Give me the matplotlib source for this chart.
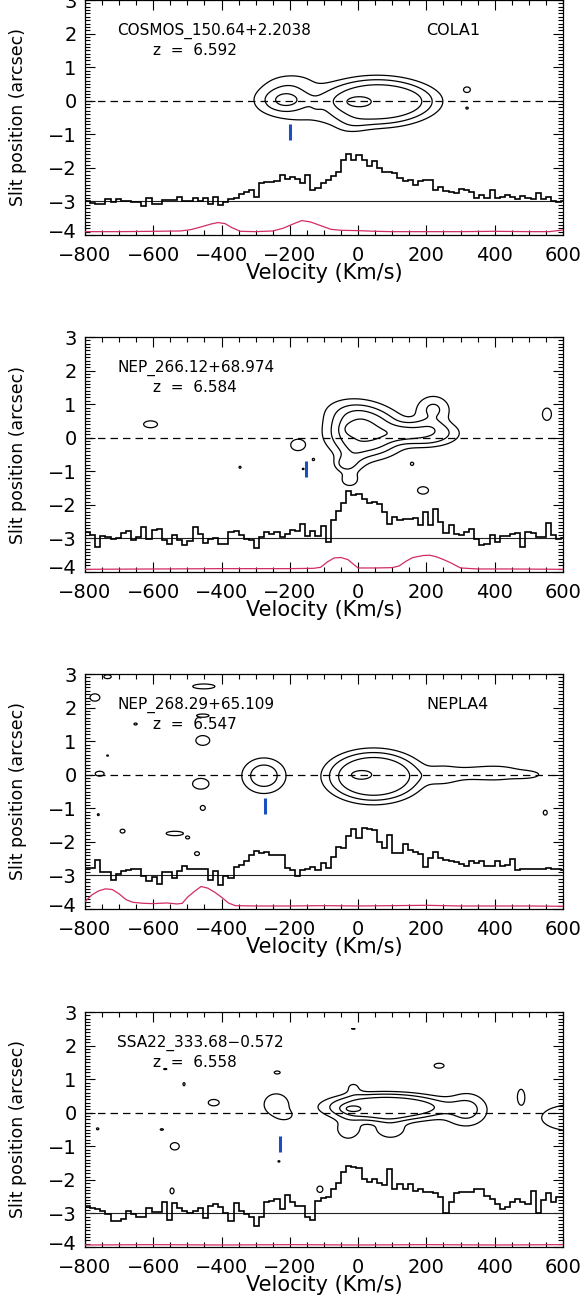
import numpy as np
import matplotlib
matplotlib.use("Agg")
import matplotlib.pyplot as plt
from matplotlib.ticker import MultipleLocator
import matplotlib.transforms as mtransforms

# ---------------- data ----------------
BIN_START = -800
BIN_WIDTH = 15

NAMES = ["COSMOS_150.64+2.2038", "NEP_266.12+68.974", "NEP_268.29+65.109", "SSA22_333.68\u22120.572"]
REDSHIFTS = ["6.592", "6.584", "6.547", "6.558"]
ALIASES = ["COLA1", "", "NEPLA4", ""]
MARK_V = [-199, -153, -273, -229]

P1_SPEC = [-2.99, -3.04, -3.07, -3.09, -2.94, -3.01, -2.92, -2.99, -2.99, -3.02,
           -3.02, -3.14, -2.89, -3.07, -3.07, -2.97, -2.97, -2.96, -2.86, -2.99,
           -2.99, -2.90, -2.99, -2.89, -3.09, -2.86, -3.12, -3.02, -2.94, -2.89,
           -2.79, -2.71, -2.67, -2.86, -2.45, -2.42, -2.42, -2.39, -2.20, -2.32,
           -2.27, -2.33, -2.45, -2.20, -2.67, -2.59, -2.46, -2.35, -2.25, -2.12,
           -1.77, -1.60, -1.77, -1.63, -1.78, -1.93, -1.80, -2.00, -2.11, -2.13,
           -2.15, -2.30, -2.40, -2.37, -2.52, -2.40, -2.37, -2.37, -2.66, -2.56,
           -2.69, -2.71, -2.74, -2.62, -2.67, -2.71, -2.89, -2.82, -2.89, -2.66,
           -2.89, -2.86, -2.82, -2.88, -2.92, -2.85, -2.90, -2.93, -2.75, -2.93,
           -2.86, -2.98, -3.02, -2.98]
P2_SPEC = [-2.81, -2.89, -3.26, -2.93, -2.96, -3.01, -2.99, -2.84, -2.78, -3.06,
           -2.96, -2.66, -3.01, -2.76, -2.73, -3.04, -3.16, -2.89, -3.06, -3.19,
           -3.08, -2.66, -2.86, -3.14, -3.01, -2.99, -3.16, -3.16, -2.81, -2.78,
           -2.91, -3.03, -3.06, -3.29, -2.96, -2.81, -2.86, -2.81, -2.96, -2.86,
           -2.76, -2.79, -2.58, -2.93, -2.79, -2.93, -2.64, -3.11, -2.46, -2.19,
           -1.94, -1.60, -1.72, -1.67, -1.82, -1.95, -1.90, -1.97, -2.22, -2.56,
           -2.37, -2.46, -2.41, -2.41, -2.40, -2.59, -2.22, -2.59, -2.12, -2.51,
           -2.83, -2.61, -2.88, -2.91, -2.81, -2.71, -3.03, -3.21, -3.16, -2.89,
           -3.11, -2.94, -2.94, -2.88, -2.85, -3.25, -2.80, -2.85, -2.95, -2.95,
           -2.53, -2.90, -3.02, -3.00]
P3_SPEC = [-2.78, -2.78, -2.53, -2.91, -2.91, -3.14, -2.96, -2.88, -2.83, -2.80,
           -2.80, -3.03, -3.17, -3.06, -3.27, -2.90, -2.90, -3.08, -2.88, -2.71,
           -2.81, -2.81, -2.81, -2.81, -3.15, -2.86, -3.29, -3.03, -3.09, -2.76,
           -2.68, -2.58, -2.40, -2.27, -2.34, -2.31, -2.38, -2.40, -2.40, -2.78,
           -2.85, -3.03, -2.83, -2.80, -2.76, -2.83, -2.63, -2.78, -2.45, -2.14,
           -2.17, -1.82, -1.63, -1.89, -1.58, -1.63, -1.66, -1.99, -2.17, -1.79,
           -2.34, -2.34, -2.07, -2.24, -2.31, -2.37, -2.75, -2.48, -2.31, -2.48,
           -2.53, -2.56, -2.61, -2.66, -2.73, -2.56, -2.63, -2.56, -2.73, -2.73,
           -2.56, -2.71, -2.70, -2.50, -2.85, -2.80, -2.80, -2.82, -2.80, -2.80,
           -2.78, -2.82, -2.80, -2.83]
P4_SPEC = [-2.79, -2.85, -2.87, -2.92, -3.02, -3.22, -3.22, -3.17, -2.92, -3.02,
           -3.12, -3.12, -2.85, -2.97, -2.95, -2.65, -3.19, -2.69, -2.85, -2.92,
           -3.00, -2.92, -2.85, -3.14, -2.77, -2.72, -2.82, -2.99, -3.22, -2.69,
           -2.92, -3.02, -3.12, -3.37, -3.12, -2.67, -2.62, -2.57, -2.87, -2.45,
           -2.67, -2.77, -2.77, -3.12, -3.20, -2.62, -2.55, -2.52, -2.28, -2.08,
           -1.76, -1.58, -1.62, -1.65, -1.98, -2.06, -1.98, -2.10, -2.16, -1.68,
           -2.28, -2.13, -2.28, -2.13, -2.33, -2.28, -2.36, -2.36, -2.40, -2.52,
           -2.99, -2.67, -2.40, -2.36, -2.35, -2.35, -2.26, -2.26, -2.48, -2.57,
           -2.72, -2.87, -2.82, -2.67, -2.57, -2.67, -2.72, -2.33, -3.00, -2.60,
           -2.40, -2.67, -2.52, -2.52]

P1_SKY_V = [-800, -700, -600, -520, -490, -460, -430, -410, -390, -370, -345, -300, -250, -220,
            -190, -165, -140, -110, -80, -50, 0, 50, 100, 200, 300, 400, 500, 560, 600]
P1_SKY_Y = [-3.90, -3.90, -3.89, -3.88, -3.84, -3.76, -3.67, -3.63, -3.66, -3.78, -3.89, -3.90,
            -3.88, -3.80, -3.67, -3.57, -3.61, -3.72, -3.83, -3.86, -3.87, -3.89, -3.90, -3.90,
            -3.90, -3.89, -3.90, -3.90, -3.85]
P2_SKY_V = [-800, -600, -400, -200, -130, -110, -90, -70, -50, -30, -10, 0, 50, 100, 120, 140,
            160, 190, 210, 230, 250, 270, 300, 350, 450, 600]
P2_SKY_Y = [-3.92, -3.91, -3.90, -3.90, -3.89, -3.86, -3.70, -3.58, -3.57, -3.63, -3.80, -3.88,
            -3.88, -3.87, -3.82, -3.68, -3.57, -3.51, -3.50, -3.55, -3.63, -3.72, -3.88, -3.91,
            -3.91, -3.92]
P3_SKY_V = [-800, -780, -760, -740, -720, -700, -680, -660, -630, -600, -560, -530, -515, -500,
            -480, -460, -440, -420, -400, -380, -360, -300, -200, -100, 0, 100, 200, 300, 400,
            500, 600]
P3_SKY_Y = [-3.78, -3.58, -3.46, -3.40, -3.42, -3.55, -3.72, -3.80, -3.83, -3.84, -3.82, -3.85,
            -3.83, -3.65, -3.48, -3.33, -3.38, -3.50, -3.65, -3.82, -3.90, -3.91, -3.91, -3.90,
            -3.91, -3.90, -3.89, -3.91, -3.91, -3.91, -3.92]
P4_SKY_V = [-800, -600, -400, -200, 0, 200, 400, 600]
P4_SKY_Y = [-3.94, -3.93, -3.94, -3.93, -3.94, -3.93, -3.94, -3.93]

# 2D emission components: (velocity, slit pos, sigma_v, sigma_y, amplitude, shape)
P1_COMP = [(55, -0.03, 140, 0.62, 3.7, 2.0), (-5, -0.03, 30, 0.12, 0.7, 1.0),
           (-213, 0.02, 55, 0.3, 2.8, 1.0), (-200, 0.0, 90, 0.5, 0.6, 1.0),
           (-190, 0.6, 60, 0.22, 0.8, 1.0), (-25, -0.8, 40, 0.18, 0.9, 1.0),
           (-130, -0.6, 60, 0.15, 0.5, 1.0), (200, 0.0, 70, 0.35, 0.5, 1.0),
           (-123, -0.2, 12, 0.1, 0.35, 1.0), (319, 0.33, 12, 0.1, 1.3, 1.0),
           (319, -0.22, 5, 0.04, 1.2, 1.0)]
P2_COMP = [(20, 0.15, 85, 0.6, 3.6, 1.5), (-19, 0.26, 18, 0.12, 0.8, 1.0),
           (195, 0.13, 75, 0.3, 2.5, 1.5), (220, 0.85, 35, 0.3, 2.15, 1.0),
           (-30, 0.85, 60, 0.3, 1.2, 1.0), (-20, -0.75, 30, 0.3, 1.3, 1.0),
           (100, 0.1, 150, 0.5, 0.6, 1.0), (-608, 0.4, 28, 0.14, 1.3, 1.0),
           (-346, -0.88, 6, 0.06, 1.15, 1.0), (-177, -0.22, 25, 0.2, 1.3, 1.0),
           (-131, -0.65, 5, 0.05, 1.15, 1.0), (-161, -0.93, 5, 0.04, 1.15, 1.0),
           (-41, -0.78, 20, 0.15, 1.4, 1.0), (-25, -1.28, 20, 0.15, 1.4, 1.0),
           (158, -0.78, 6, 0.06, 1.2, 1.0), (190, -1.57, 22, 0.15, 1.3, 1.0),
           (553, 0.7, 18, 0.25, 1.3, 1.0)]
P3_COMP = [(45, -0.05, 120, 0.66, 3.9, 2.0), (3, 0.0, 20, 0.08, 0.5, 1.0),
           (400, 0.05, 110, 0.3, 1.25, 1.0), (500, 0.0, 30, 0.08, 0.6, 1.0),
           (275, 0.0, 45, 0.25, 0.4, 1.0), (237, -0.02, 30, 0.2, 1.1, 1.0),
           (-276, -0.03, 44, 0.36, 2.95, 1.0),
           (-455, 1.02, 28, 0.2, 1.3, 1.0), (-461, -0.27, 33, 0.22, 1.3, 1.0),
           (-455, -0.99, 10, 0.1, 1.3, 1.0), (-452, 2.63, 45, 0.1, 1.3, 1.0),
           (-455, 1.76, 30, 0.08, 1.2, 1.0), (-757, 0.03, 18, 0.1, 1.3, 1.0),
           (-771, 2.3, 20, 0.15, 1.3, 1.0), (-734, 2.92, 15, 0.08, 1.3, 1.0),
           (-652, 1.51, 8, 0.05, 1.2, 1.0), (-734, 0.57, 5, 0.03, 1.2, 1.0),
           (-761, -1.19, 5, 0.05, 1.2, 1.0), (-690, -1.68, 10, 0.08, 1.3, 1.0),
           (-537, -1.75, 35, 0.09, 1.3, 1.0), (-499, -1.88, 6, 0.04, 1.2, 1.0),
           (-472, -2.35, 10, 0.08, 1.3, 1.0), (548, -1.13, 8, 0.1, 1.3, 1.0)]
P4_COMP = [(75, 0.18, 150, 0.36, 3.5, 2.0), (-19, 0.12, 18, 0.07, 1.1, 1.0),
           (-30, -0.5, 30, 0.3, 1.2, 1.0), (95, -0.5, 35, 0.25, 1.2, 1.0),
           (60, -0.35, 150, 0.35, 0.4, 1.0),
           (-14, 0.75, 20, 0.15, 1.2, 1.0), (320, 0.1, 40, 0.35, 2.1, 1.0),
           (250, 0.1, 80, 0.3, 0.7, 1.0), (-240, 0.25, 45, 0.4, 1.35, 1.0),
           (-210, -0.1, 20, 0.12, 0.5, 1.0),
           (-423, 0.3, 22, 0.13, 1.3, 1.0), (477, 0.5, 12, 0.25, 1.3, 1.0),
           (630, -0.15, 95, 0.4, 1.6, 1.0), (-237, 1.2, 12, 0.06, 1.2, 1.0),
           (237, 1.4, 20, 0.1, 1.3, 1.0), (-14, 2.5, 12, 0.02, 1.1, 1.0),
           (-510, 0.85, 5, 0.08, 1.2, 1.0), (-565, 1.3, 8, 0.03, 1.2, 1.0),
           (-537, -1.0, 18, 0.15, 1.3, 1.0), (-575, -0.5, 8, 0.04, 1.2, 1.0),
           (-763, -0.48, 6, 0.05, 1.2, 1.0), (-545, -2.33, 8, 0.12, 1.3, 1.0),
           (-112, -2.28, 12, 0.13, 1.3, 1.0), (-232, -1.45, 5, 0.04, 1.2, 1.0)]

CONTOUR_LEVELS = [1, 2, 3, 4]

SPECS = [P1_SPEC, P2_SPEC, P3_SPEC, P4_SPEC]
SKIES = [(P1_SKY_V, P1_SKY_Y), (P2_SKY_V, P2_SKY_Y), (P3_SKY_V, P3_SKY_Y), (P4_SKY_V, P4_SKY_Y)]
COMPS = [P1_COMP, P2_COMP, P3_COMP, P4_COMP]

# ---------------- plotting ----------------
W, H = 583, 1302
plt.rcParams['font.family'] = ['DejaVu Sans']
fig = plt.figure(figsize=(W / 100, H / 100), dpi=100)

gv = np.linspace(-800, 600, 561)
gy = np.linspace(-4, 3, 351)
GV, GY = np.meshgrid(gv, gy)


def field(comps):
    z = np.zeros_like(GV)
    for cv, cy, sv, sy, a, p in comps:
        r2 = ((GV - cv) / sv) ** 2 + ((GY - cy) / sy) ** 2
        z += a * np.exp(-0.5 * r2 ** p)
    return z


AX_LEFT, AX_RIGHT = 85, 563
AX_H = 235
TOPS = [0, 337, 674, 1012]
RED = '#d22c64'
BLUE = '#1a4fc0'

for k in range(4):
    top = TOPS[k]
    ax = fig.add_axes([AX_LEFT / W, 1 - (top + AX_H) / H, (AX_RIGHT - AX_LEFT) / W, AX_H / H])
    ax.set_xlim(-800, 600)
    ax.set_ylim(-4, 3)

    spec = SPECS[k]
    edges = BIN_START + BIN_WIDTH * np.arange(len(spec) + 1)
    ax.axhline(-3, color='#222222', lw=0.8, zorder=2)
    ax.stairs(spec, edges, baseline=None, color='black', lw=1.2, zorder=3)
    sv, sy = SKIES[k]
    ax.plot(sv, sy, color=RED, lw=0.9, zorder=3)

    ax.axhline(0, color='black', lw=0.9, ls=(0, (6, 4)), zorder=2)
    ax.contour(GV, GY, field(COMPS[k]), levels=CONTOUR_LEVELS, colors='black',
               linewidths=0.9, zorder=4)
    ax.plot([MARK_V[k], MARK_V[k]], [-0.7, -1.18], color=BLUE, lw=2.2, zorder=5,
            solid_capstyle='butt')

    ax.text(-705, 2.09, NAMES[k], fontsize=11, va='center', ha='left')
    ax.text(-600, 1.5, 'z  =  ' + REDSHIFTS[k], fontsize=11, va='center', ha='left')
    if ALIASES[k]:
        ax.text(199, 2.09, ALIASES[k], fontsize=11.5, va='center', ha='left')

    ax.set_xticks(np.arange(-800, 601, 200))
    ax.set_yticks(np.arange(-4, 4, 1))
    ax.xaxis.set_minor_locator(MultipleLocator(50))
    ax.yaxis.set_minor_locator(MultipleLocator(0.1))
    ax.tick_params(which='both', direction='in', top=True, right=True, width=0.8,
                   labelsize=14)
    ax.tick_params(which='major', length=7)
    ax.tick_params(axis='x', which='major', pad=8)
    ax.tick_params(axis='y', which='major', pad=6)
    ax.tick_params(which='minor', length=3.5)
    for s in ax.spines.values():
        s.set_linewidth(0.9)
    # lift the bottom y label slightly, as in the reference
    fig.canvas.draw()
    ylabels = ax.get_yticklabels()
    shift = mtransforms.ScaledTranslation(0, 5 / 100, fig.dpi_scale_trans)
    ylabels[0].set_transform(ylabels[0].get_transform() + shift)

    fig.text((AX_LEFT + AX_RIGHT) / 2 / W, 1 - (top + AX_H + 38) / H, 'Velocity (Km/s)',
             ha='center', va='center', fontsize=15)
    fig.text(18 / W, 1 - (top + AX_H / 2) / H, 'Slit position (arcsec)', rotation=90,
             ha='center', va='center', fontsize=12.5)

fig.savefig('out.png', dpi=100)
